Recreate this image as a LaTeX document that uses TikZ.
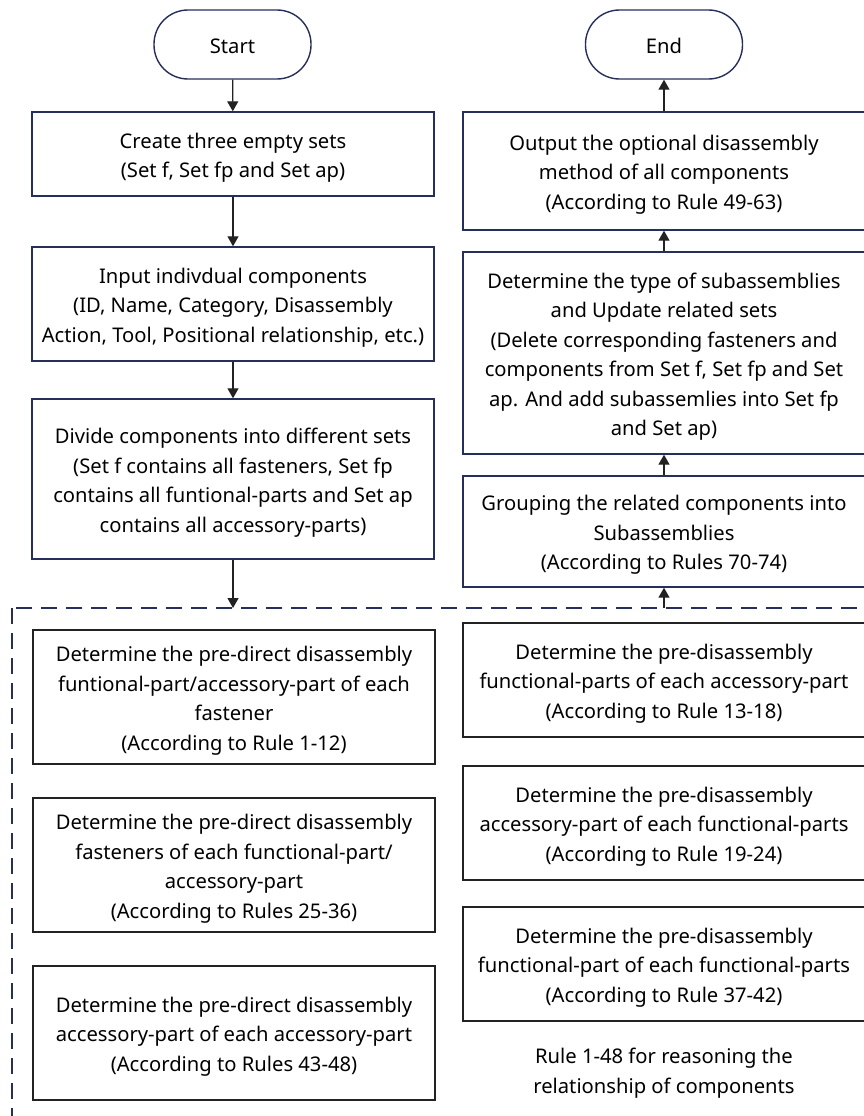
\documentclass[tikz,border=0pt]{standalone}
\usepackage{fontspec}
\setmainfont{Noto Sans}
\usetikzlibrary{arrows.meta}
\definecolor{navy}{RGB}{38,46,92}
\definecolor{ink}{RGB}{34,34,34}
% centred lines with a taller first row, so text sits a little low in its box
\newcommand\boxlines[1]{\begin{tabular}{@{}c@{}}\rule{0pt}{26.4pt}#1\end{tabular}}
\begin{document}
\begin{tikzpicture}[x=1pt,y=-1pt,
  every node/.style={inner sep=0pt, text=black,
    font=\fontsize{20.2}{29.5}\selectfont},
  terminal/.style={draw=navy, line width=1.4pt, rounded corners=34pt,
    minimum width=157pt, minimum height=69pt},
  flowbox/.style={draw=navy, line width=1.4pt, minimum height=#1},
  leftbox/.style={flowbox=#1, minimum width=402pt},
  rightbox/.style={flowbox=#1, minimum width=402pt},
  rulebox/.style={draw=ink, line width=1.4pt, minimum width=402pt, minimum height=#1},
  flow/.style={draw=ink, line width=1.3pt, -{Triangle[length=10pt,width=11pt]}},
  groupframe/.style={draw=navy, line width=1.3pt, dash pattern=on 16pt off 9pt}
]
\useasboundingbox (0,0) rectangle (864,1116);

% left column: preparation
\node[terminal] (start) at (232.5,44.5) {\boxlines{Start}};
\node[leftbox=84pt] (create) at (233,154) {\boxlines{Create three empty sets\\(Set f, Set fp and Set ap)}};
\node[leftbox=114pt] (input) at (233,304) {\boxlines{Input indivdual components\\(ID, Name, Category, Disassembly\\Action, Tool, Positional relationship, etc.)}};
\node[leftbox=160pt] (divide) at (233,479) {\boxlines{Divide components into different sets\\(Set f contains all fasteners, Set fp\\contains all funtional-parts and Set ap\\contains all accessory-parts)}};

% right column: subassemblies and output
\node[terminal] (end) at (664,44.5) {\boxlines{End}};
\node[rightbox=118pt] (output) at (664,171) {\boxlines{Output the optional disassembly\\method of all components\\(According to Rule 49-63)}};
\node[rightbox=202pt] (dettype) at (664,353) {\boxlines{Determine the type of subassemblies\\and Update related sets\\(Delete corresponding fasteners and\\components from Set f, Set fp and Set\\ap. And add subassemlies into Set fp\\and Set ap)}};
\node[rightbox=111pt] (group) at (664,531.5) {\boxlines{Grouping the related components into\\Subassemblies\\(According to Rules 70-74)}};

% reasoning block
\draw[groupframe] (12,608) rectangle (890,1140);
\coordinate (inL) at (233,608);
\coordinate (outR) at (664,608);

\node[rulebox=134pt] (r1) at (234,697) {\boxlines{Determine the pre-direct disassembly\\funtional-part/accessory-part of each\\fastener\\(According to Rule 1-12)}};
\node[rulebox=134pt] (r2) at (234,865) {\boxlines{Determine the pre-direct disassembly\\fasteners of each functional-part/\\accessory-part\\(According to Rules 25-36)}};
\node[rulebox=134pt] (r3) at (234,1033) {\boxlines{Determine the pre-direct disassembly\\accessory-part of each accessory-part\\(According to Rules 43-48)}};

\node[rulebox=114pt] (r4) at (664,680) {\boxlines{Determine the pre-disassembly\\functional-parts of each accessory-part\\(According to Rule 13-18)}};
\node[rulebox=114pt] (r5) at (664,823) {\boxlines{Determine the pre-disassembly\\accessory-part of each functional-parts\\(According to Rule 19-24)}};
\node[rulebox=114pt] (r6) at (664,964) {\boxlines{Determine the pre-disassembly\\functional-part of each functional-parts\\(According to Rule 37-42)}};

\node (note) at (664,1069.5) {\boxlines{Rule 1-48 for reasoning the\\relationship of components}};

% connectors
\draw[flow] (start) -- (create);
\draw[flow] (create) -- (input);
\draw[flow] (input) -- (divide);
\draw[flow] (divide) -- (inL);
\draw[flow] (outR) -- (group);
\draw[flow] (group) -- (dettype);
\draw[flow] (dettype) -- (output);
\draw[flow] (output) -- (end);
\end{tikzpicture}
\end{document}
